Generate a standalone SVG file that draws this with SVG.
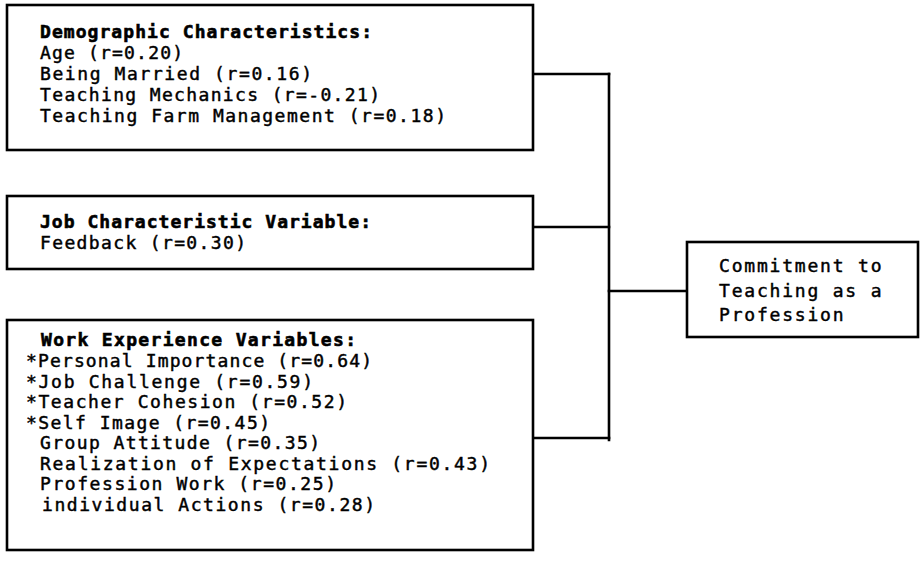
<svg xmlns="http://www.w3.org/2000/svg" width="924" height="565" viewBox="0 0 924 565">
<style>
.box{fill:#fff;stroke:#000;stroke-width:2.6}
.ln{stroke:#000;stroke-width:2.6;fill:none;stroke-linecap:square}
text{font-family:"DejaVu Sans Mono","Liberation Mono",monospace;font-size:18px;fill:#000;stroke:#000;stroke-width:0.45}
.h{font-weight:bold;stroke-width:0.6}
.c{letter-spacing:1.8px}
</style>
<rect width="924" height="565" fill="#fff"/>
<g id="connectors">
<line class="ln" x1="533" y1="74" x2="609" y2="74"/>
<line class="ln" x1="533" y1="227" x2="609" y2="227"/>
<line class="ln" x1="533" y1="438" x2="609" y2="438"/>
<line class="ln" x1="609" y1="74" x2="609" y2="440"/>
<line class="ln" x1="609" y1="291" x2="687" y2="291"/>
</g>
<g id="demographic">
<rect class="box" x="7" y="5" width="526" height="145"/>
<text class="h" x="40" y="38" textLength="332" lengthAdjust="spacing">Demographic Characteristics:</text>
<text x="40" y="59" textLength="143" lengthAdjust="spacing">Age (r=0.20)</text>
<text x="40" y="80" textLength="272" lengthAdjust="spacing">Being Married (r=0.16)</text>
<text x="40" y="101" textLength="340" lengthAdjust="spacing">Teaching Mechanics (r=-0.21)</text>
<text x="40" y="122" textLength="406" lengthAdjust="spacing">Teaching Farm Management (r=0.18)</text>
</g>
<g id="job">
<rect class="box" x="7" y="196" width="526" height="73"/>
<text class="h" x="40" y="228" textLength="331" lengthAdjust="spacing">Job Characteristic Variable:</text>
<text x="40" y="249" textLength="206" lengthAdjust="spacing">Feedback (r=0.30)</text>
</g>
<g id="work">
<rect class="box" x="7" y="320" width="526" height="230"/>
<text class="h" x="41" y="346" textLength="315" lengthAdjust="spacing">Work Experience Variables:</text>
<text x="26" y="367" textLength="346" lengthAdjust="spacing">*Personal Importance (r=0.64)</text>
<text x="26" y="388" textLength="287" lengthAdjust="spacing">*Job Challenge (r=0.59)</text>
<text x="26" y="408" textLength="321" lengthAdjust="spacing">*Teacher Cohesion (r=0.52)</text>
<text x="26" y="429" textLength="244" lengthAdjust="spacing">*Self Image (r=0.45)</text>
<text x="40" y="449" textLength="280" lengthAdjust="spacing">Group Attitude (r=0.35)</text>
<text x="40" y="470" textLength="450" lengthAdjust="spacing">Realization of Expectations (r=0.43)</text>
<text x="40" y="490" textLength="296" lengthAdjust="spacing">Profession Work (r=0.25)</text>
<text x="42" y="511" textLength="333" lengthAdjust="spacing">individual Actions (r=0.28)</text>
</g>
<g id="commitment">
<rect class="box" x="687" y="242" width="231" height="95"/>
<text class="c" x="719" y="272">Commitment to</text>
<text class="c" x="719" y="297">Teaching as a</text>
<text class="c" x="719" y="321">Profession</text>
</g>
</svg>
